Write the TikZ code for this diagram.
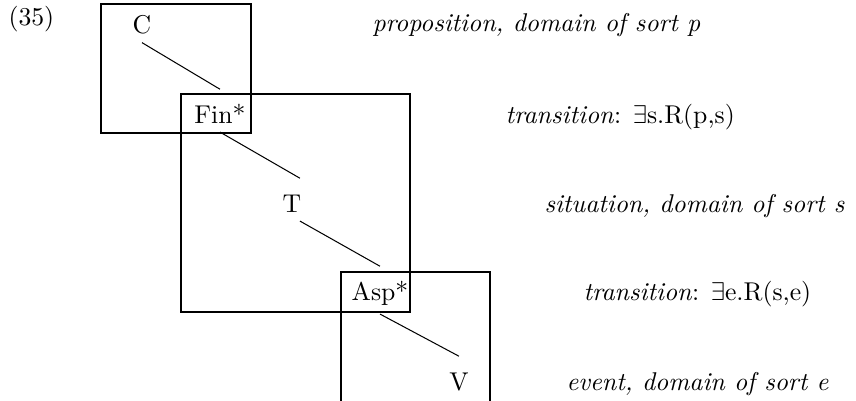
\documentclass[tikz,border=0pt]{standalone}
\usepackage{amsmath,amssymb}
\usepackage{tikz}

\begin{document}
\begin{tikzpicture}[x=0.389pt,y=-0.389pt,
      cat/.style={anchor=base,text height=9.6pt},
      gloss/.style={anchor=base west,inner sep=0pt},
      box/.style={draw,line width=0.4pt},
      edge/.style={draw,line width=0.4pt}]
    \useasboundingbox (0,0) rectangle (856,401);
    \node[anchor=base west,inner sep=0pt] (exnum) at (8,25) {(35)};
    % domains
    \draw[box] (101,4) rectangle (251,133);
    \draw[box] (181,94) rectangle (410,312);
    \draw[box] (341,401) -- (341,272) -- (490,272) -- (490,401);
    % categories
    \node[cat] (C) at (142,33) {C};
    \node[cat] (Fin) at (220,123) {Fin*};
    \node[cat] (T) at (292,212) {T};
    \node[cat] (Asp) at (380,300) {Asp*};
    \node[cat] (V) at (459,390) {V};
    \draw[edge] (C.south) -- (Fin.north);
    \draw[edge] (Fin.south) -- ([xshift=3.1pt]T.north);
    \draw[edge] ([xshift=3.1pt]T.south) -- (Asp.north);
    \draw[edge] (Asp.south) -- (V.north);
    % glosses
    \node[gloss] (gp) at (372,31) {\textit{proposition, domain of sort p}};
    \node[gloss] (gps) at (505,123) {\textit{transition}: $\exists$s.R(p,s)};
    \node[gloss] (gs) at (544,212) {\textit{situation, domain of sort s}};
    \node[gloss] (gse) at (583,300) {\textit{transition}: $\exists$e.R(s,e)};
    \node[gloss] (ge) at (566,390) {\textit{event, domain of sort e}};
  \end{tikzpicture}
\end{document}
